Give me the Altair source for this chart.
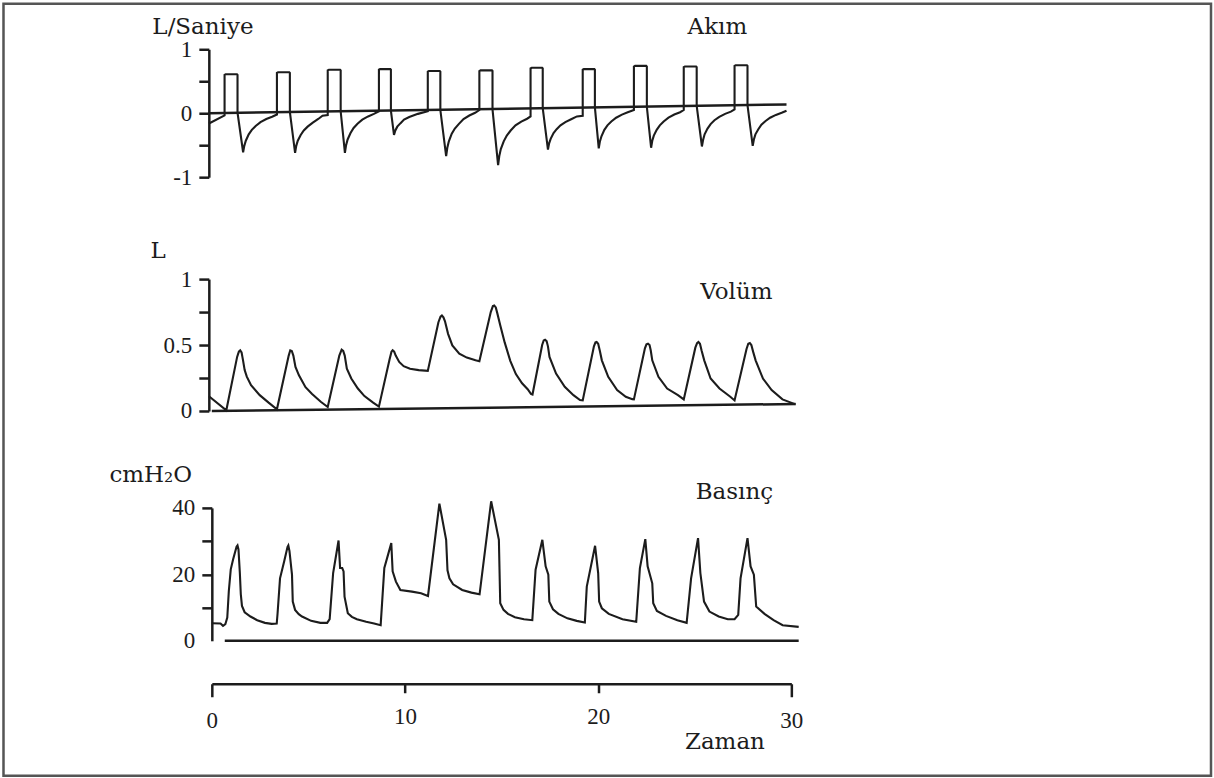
import altair as alt
import pandas as pd

# ---------------- data (time in s) ----------------
FLOW_T = [-0.15,
          0.66, 0.66, 0.72, 1.30, 1.33, 1.33, 1.62, 1.68, 1.76, 1.91, 2.07, 2.27, 2.52, 2.82, 3.12, 3.37,
          3.37, 3.43, 4.01, 4.04, 4.04, 4.31, 4.37, 4.45, 4.60, 4.76, 4.96, 5.21, 5.51, 5.73, 6.00,
          6.00, 6.06, 6.64, 6.67, 6.67, 6.89, 6.95, 7.03, 7.18, 7.34, 7.54, 7.79, 8.09, 8.39, 8.65,
          8.65, 8.71, 9.24, 9.27, 9.27, 9.43, 9.50, 9.60, 9.77, 9.95, 10.22, 10.67, 11.18,
          11.18, 11.24, 11.80, 11.83, 11.83, 12.13, 12.19, 12.27, 12.42, 12.58, 12.78, 13.03, 13.33, 13.63, 13.85,
          13.85, 13.91, 14.50, 14.53, 14.53, 14.82, 14.88, 14.96, 15.11, 15.27, 15.47, 15.72, 16.02, 16.32, 16.50,
          16.50, 16.56, 17.10, 17.13, 17.13, 17.40, 17.46, 17.54, 17.69, 17.85, 18.05, 18.30, 18.60, 18.90, 19.20,
          19.20, 19.26, 19.80, 19.83, 19.83, 20.03, 20.09, 20.17, 20.32, 20.48, 20.68, 20.93, 21.23, 21.53, 21.85,
          21.85, 21.91, 22.49, 22.52, 22.52, 22.74, 22.80, 22.88, 23.03, 23.19, 23.39, 23.64, 23.94, 24.24, 24.43,
          24.43, 24.49, 25.07, 25.10, 25.10, 25.37, 25.43, 25.51, 25.66, 25.82, 26.02, 26.27, 26.57, 26.87, 27.06,
          27.06, 27.12, 27.70, 27.73, 27.73, 28.00, 28.06, 28.14, 28.29, 28.45, 28.65, 28.90, 29.20, 29.50, 29.75]
FLOW_V = [-0.16,
          -0.035, 0.60, 0.61, 0.61, 0.60, 0.01, -0.61, -0.51, -0.43, -0.33, -0.26, -0.20, -0.14, -0.09, -0.055, -0.02,
          0.63, 0.64, 0.64, 0.63, 0.02, -0.62, -0.51, -0.43, -0.34, -0.27, -0.21, -0.15, -0.09, -0.04, -0.03,
          0.67, 0.68, 0.68, 0.67, 0.03, -0.62, -0.50, -0.41, -0.31, -0.23, -0.165, -0.10, -0.05, -0.01, 0.03,
          0.68, 0.69, 0.69, 0.68, 0.04, -0.34, -0.27, -0.21, -0.155, -0.10, -0.06, -0.01, 0.03,
          0.65, 0.66, 0.66, 0.65, 0.05, -0.67, -0.54, -0.44, -0.32, -0.24, -0.17, -0.09, -0.036, 0.007, 0.05,
          0.66, 0.67, 0.67, 0.66, 0.06, -0.81, -0.67, -0.56, -0.44, -0.35, -0.27, -0.19, -0.13, -0.086, -0.05,
          0.70, 0.71, 0.71, 0.70, 0.08, -0.57, -0.47, -0.40, -0.31, -0.25, -0.19, -0.14, -0.095, -0.05, -0.04,
          0.68, 0.69, 0.69, 0.68, 0.09, -0.55, -0.44, -0.36, -0.26, -0.19, -0.13, -0.07, -0.022, 0.014, 0.05,
          0.73, 0.74, 0.74, 0.73, 0.10, -0.54, -0.43, -0.35, -0.26, -0.19, -0.13, -0.07, -0.02, 0.015, 0.05,
          0.72, 0.73, 0.73, 0.72, 0.115, -0.52, -0.42, -0.33, -0.24, -0.17, -0.11, -0.056, -0.01, 0.025, 0.06,
          0.74, 0.75, 0.75, 0.74, 0.127, -0.51, -0.41, -0.33, -0.25, -0.18, -0.125, -0.07, -0.026, 0.007, 0.04]
FLOW_BASE_T = [-0.15, 29.75]
FLOW_BASE_V = [0.0, 0.137]

VOL_T = [-0.15,
         0.75, 1.31, 1.40, 1.47, 1.54, 1.62, 1.70, 1.81, 2.03, 2.48, 2.94, 3.37,
         3.98, 4.06, 4.14, 4.22, 4.33, 4.51, 4.85, 5.19, 5.64, 6.00,
         6.60, 6.72, 6.80, 6.88, 6.99, 7.22, 7.56, 7.90, 8.35, 8.65,
         9.20, 9.30, 9.36, 9.44, 9.52, 9.70, 9.93, 10.26, 10.71, 11.18,
         11.73, 11.84, 11.91, 11.99, 12.07, 12.23, 12.45, 12.81, 13.20, 13.65, 13.85,
         14.44, 14.55, 14.62, 14.70, 14.78, 14.93, 15.16, 15.45, 15.74, 16.06, 16.35, 16.52, 16.60,
         17.10, 17.18, 17.25, 17.33, 17.40, 17.48, 17.82, 18.27, 18.72, 19.06, 19.20,
         19.78, 19.86, 19.92, 20.00, 20.08, 20.19, 20.52, 20.98, 21.43, 21.77, 21.85,
         22.42, 22.50, 22.58, 22.66, 22.72, 22.80, 23.12, 23.57, 24.13, 24.43,
         25.03, 25.12, 25.19, 25.27, 25.35, 25.49, 25.82, 26.28, 26.84, 27.06,
         27.68, 27.77, 27.85, 27.93, 28.02, 28.15, 28.53, 28.98, 29.54, 30.22]
VOL_V = [0.112,
         0.005, 0.41, 0.45, 0.46, 0.445, 0.38, 0.31, 0.26, 0.196, 0.12, 0.063, 0.013,
         0.42, 0.46, 0.455, 0.42, 0.334, 0.27, 0.18, 0.128, 0.07, 0.03,
         0.42, 0.465, 0.455, 0.42, 0.32, 0.246, 0.17, 0.113, 0.063, 0.033,
         0.39, 0.45, 0.46, 0.45, 0.42, 0.372, 0.34, 0.32, 0.31, 0.304,
         0.673, 0.715, 0.724, 0.71, 0.68, 0.585, 0.497, 0.435, 0.405, 0.384, 0.377,
         0.75, 0.795, 0.80, 0.785, 0.74, 0.65, 0.52, 0.38, 0.28, 0.21, 0.165, 0.13, 0.125,
         0.50, 0.535, 0.54, 0.53, 0.49, 0.41, 0.284, 0.183, 0.12, 0.083, 0.08,
         0.49, 0.52, 0.523, 0.51, 0.46, 0.384, 0.259, 0.158, 0.108, 0.09, 0.088,
         0.475, 0.505, 0.51, 0.50, 0.46, 0.384, 0.259, 0.17, 0.12, 0.088,
         0.48, 0.515, 0.523, 0.51, 0.46, 0.384, 0.246, 0.17, 0.108, 0.08,
         0.47, 0.51, 0.515, 0.50, 0.45, 0.384, 0.246, 0.158, 0.088, 0.05]
VOL_BASE_T = [0.0, 30.22]
VOL_BASE_V = [0.0, 0.053]

PRES_T = [0.00, 0.45, 0.58, 0.70, 0.80, 0.88, 0.98, 1.10, 1.28, 1.33, 1.38, 1.45, 1.50, 1.56, 1.70, 2.00, 2.35, 2.75, 3.10, 3.36,
          3.40, 3.53, 3.75, 3.92, 3.96, 4.02, 4.13, 4.15, 4.19, 4.31, 4.50, 4.67, 5.14, 5.62, 5.97, 6.10,
          6.28, 6.56, 6.64, 6.75, 6.82, 6.87, 7.04, 7.25, 7.51, 7.99, 8.40, 8.74,
          8.93, 9.29, 9.36, 9.53, 9.76, 10.36, 10.83, 11.19,
          11.78, 12.13, 12.20, 12.30, 12.49, 12.96, 13.44, 13.86,
          14.46, 14.86, 14.93, 15.10, 15.33, 15.69, 16.16, 16.59,
          16.76, 17.11, 17.28, 17.42, 17.47, 17.66, 17.94, 18.41, 18.89, 19.31,
          19.41, 19.84, 20.00, 20.05, 20.19, 20.55, 21.26, 21.97,
          22.16, 22.44, 22.56, 22.80, 22.85, 23.04, 23.51, 24.10, 24.58,
          24.81, 25.17, 25.29, 25.48, 25.76, 26.24, 26.71, 27.06, 27.25,
          27.37, 27.73, 27.89, 28.06, 28.18, 28.61, 29.08, 29.55, 30.38]
PRES_V = [5.3, 5.2, 4.5, 5.0, 7.0, 15.0, 21.5, 24.5, 28.3, 28.7, 27.5, 20.5, 14.0, 10.5, 8.6, 7.3, 6.2, 5.4, 5.1, 5.2,
          8.0, 18.8, 24.0, 28.3, 28.7, 27.0, 21.0, 19.9, 11.8, 9.3, 8.0, 7.3, 6.0, 5.4, 5.4, 6.5,
          20.4, 30.2, 21.9, 21.9, 20.9, 13.3, 8.3, 7.2, 6.5, 5.7, 5.2, 4.7,
          21.9, 29.4, 20.9, 17.8, 15.3, 14.8, 14.3, 13.5,
          41.3, 30.4, 21.2, 18.8, 17.0, 15.3, 14.5, 14.0,
          42.0, 30.4, 11.3, 9.3, 8.1, 7.1, 6.5, 6.2,
          21.4, 30.4, 22.4, 19.9, 11.8, 9.5, 8.1, 6.75, 6.0, 5.5,
          16.3, 28.6, 20.4, 11.8, 9.8, 8.1, 6.5, 5.7,
          21.9, 30.6, 22.4, 17.3, 11.3, 9.0, 7.5, 6.2, 5.4,
          18.8, 30.9, 20.4, 11.8, 8.8, 7.3, 6.5, 6.5, 7.8,
          18.8, 30.9, 22.4, 19.9, 10.3, 8.1, 6.2, 4.7, 4.2]
PRES_BASE_T = [0.67, 30.38]
PRES_BASE_V = [0.0, 0.0]

X_TICKS = [0, 10, 20, 30]
FLOW_TICKS = [-1, -0.5, 0, 0.5, 1]
VOL_TICKS = [0, 0.25, 0.5, 0.75, 1]
PRES_TICKS = [0, 10, 20, 30, 40]

# ---------------- style ----------------
INK = "#1c1c1c"
NUM_FONT = "Liberation Serif"
TXT_FONT = "DejaVu Serif"
TXT_SIZE = 23
W = 580


def df(t, v):
    return pd.DataFrame({"t": t, "v": v, "i": list(range(len(t)))})


def yaxis(values, label_expr, offset, title, tx, ty, tick_opacity=1):
    return alt.Axis(values=values, labelExpr=label_expr, offset=offset, grid=False,
                    tickSize=10, tickWidth=2.5, tickColor=INK, tickOpacity=tick_opacity,
                    domainWidth=2.5, domainColor=INK,
                    labelFont=NUM_FONT, labelFontSize=23, labelColor=INK, labelPadding=7,
                    labelOverlap=False, labelFlush=False,
                    title=title, titleAngle=0, titleX=tx, titleY=ty, titleAlign="left",
                    titleBaseline="middle", titleFont=TXT_FONT, titleFontSize=TXT_SIZE,
                    titleFontWeight="normal", titleColor=INK)


def panel(tr_t, tr_v, b_t, b_v, ydom, height, yax, label, lx, ly, xax=None, extra=None,
          yrange=None):
    xs = alt.Scale(domain=[0, 30], nice=False, zero=False)
    if yrange is None:
        ys = alt.Scale(domain=ydom, nice=False, zero=False)
    else:
        ys = alt.Scale(domain=ydom, nice=False, zero=False, range=yrange)
    xenc = alt.X("t:Q", scale=xs, axis=xax)
    yenc = alt.Y("v:Q", scale=ys, axis=yax)
    base = alt.Chart(df(b_t, b_v)).mark_line(color=INK, strokeWidth=2.5, clip=False).encode(
        x=xenc, y=yenc, order="i:Q")
    trace = alt.Chart(df(tr_t, tr_v)).mark_line(color=INK, strokeWidth=2.1, clip=False,
                                                 strokeJoin="miter").encode(
        x=xenc, y=yenc, order="i:Q")
    txt = alt.Chart(pd.DataFrame({"s": [label]})).mark_text(
        font=TXT_FONT, fontSize=TXT_SIZE, color=INK, align="center", baseline="middle").encode(
        x=alt.value(lx), y=alt.value(ly), text="s:N")
    layers = [base, trace, txt]
    if extra is not None:
        layers.append(extra)
    return alt.layer(*layers).properties(width=W, height=height)


border = alt.Chart(pd.DataFrame({"k": [0]})).mark_rect(
    filled=False, stroke="#555555", strokeWidth=2.5).encode(
    x=alt.value(-208.5), x2=alt.value(1000), y=alt.value(-45.5), y2=alt.value(727))

flow_ax = yaxis(FLOW_TICKS,
                "datum.value == 1 ? '1' : datum.value == 0 ? '0' : datum.value == -1 ? '-1' : ''",
                3, "L/Saniye", -57, -23)
vol_ax = yaxis(VOL_TICKS,
               "datum.value == 1 ? '1' : datum.value == 0 ? '0' : datum.value == 0.5 ? '0.5' : ''",
               3, "L", -59, -24)
pres_ax = yaxis(PRES_TICKS, "datum.value % 20 == 0 ? datum.label : ''", 0, "cmH₂O", -103, -33,
                tick_opacity={"condition": {"test": "datum.value == 0", "value": 0}, "value": 1})

x_ax = alt.Axis(values=X_TICKS, offset=43, grid=False,
                tickSize={"condition": {"test": "datum.value == 0 || datum.value == 30", "value": 13},
                          "value": 9},
                tickWidth=2.5, tickColor=INK, domainWidth=2.5, domainColor=INK,
                labelFont=NUM_FONT, labelFontSize=23, labelColor=INK, labelPadding=13,
                labelFlush=False, labelOverlap=False,
                title="Zaman", titleX=513, titleY=58, titleAlign="center", titleBaseline="middle",
                titleFont=TXT_FONT, titleFontSize=TXT_SIZE, titleFontWeight="normal", titleColor=INK)

# panel tops: flow 49 (h 128), volume 274 (h 137, axis 279..411), pressure 508 (h 133)
flow = panel(FLOW_T, FLOW_V, FLOW_BASE_T, FLOW_BASE_V, [-1, 1], 128, flow_ax,
             "Akım", 506, -22, extra=border)
vol = panel(VOL_T, VOL_V, VOL_BASE_T, VOL_BASE_V, [0, 1], 137, vol_ax, "Volüm", 525, 18,
            yrange=[137, 5])
pres = panel(PRES_T, PRES_V, PRES_BASE_T, PRES_BASE_V, [0, 40], 133, pres_ax, "Basınç", 523, -16,
             xax=x_ax)

chart = alt.vconcat(flow, vol, pres, spacing=97, bounds="flush").properties(
    padding={"left": 2, "top": 2, "right": 1, "bottom": 1},
    autosize=alt.AutoSizeParams(type="pad"),
    background="white",
).configure_view(strokeWidth=0)

chart.save("out.html", embed_options={"renderer": "svg", "actions": False})
